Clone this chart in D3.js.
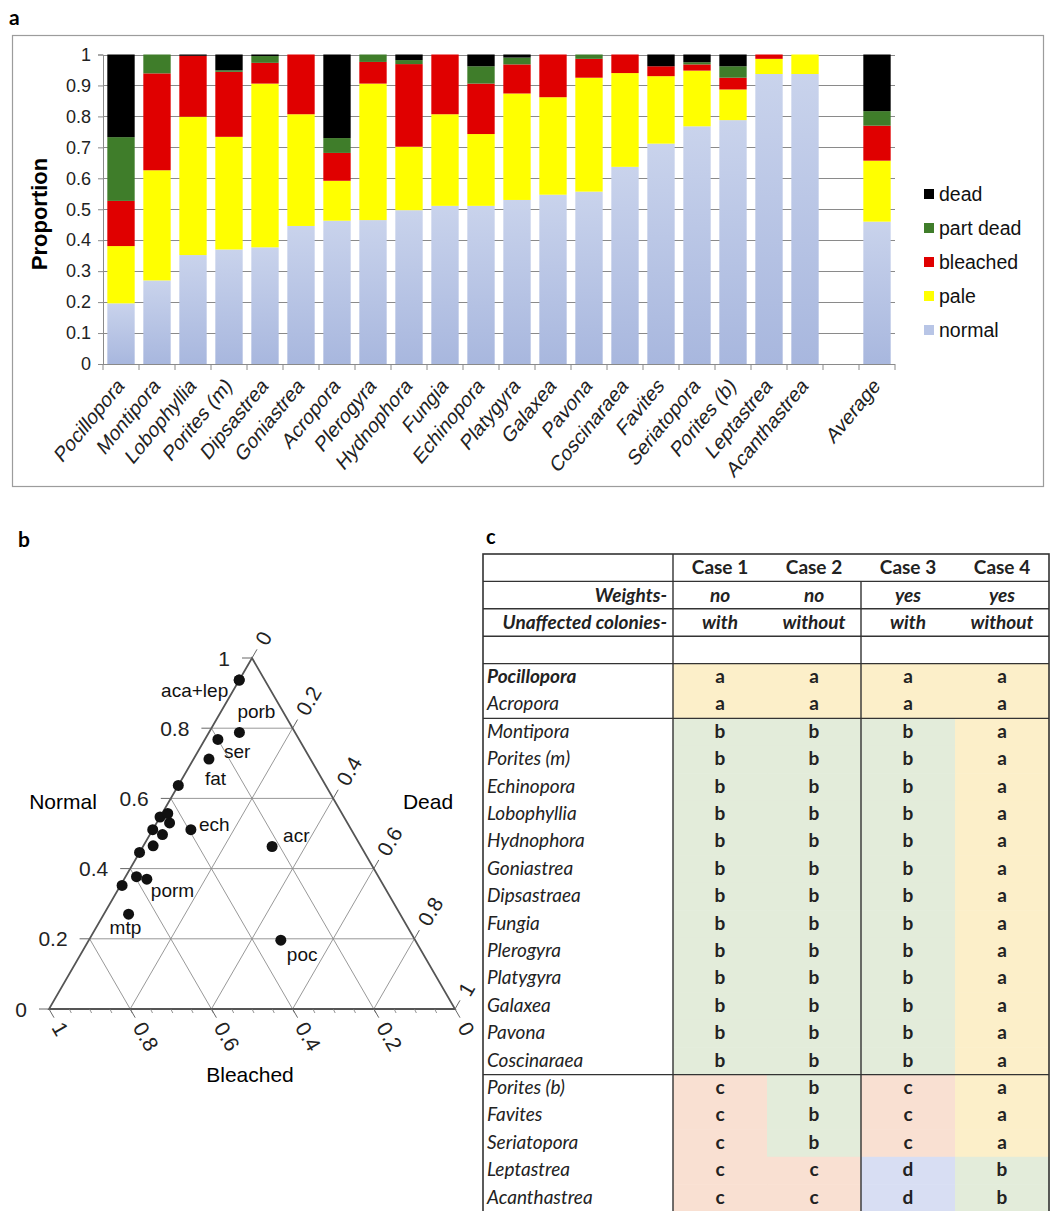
<!DOCTYPE html>
<html lang="en">
<head>
<meta charset="UTF-8">
<title>Coral condition by genus</title>
<script src="https://d3js.org/d3.v7.min.js"></script>
<style>
  body { margin: 0; background: #fff; }
  svg { display: block; font-family: "Liberation Sans", Arial, sans-serif; }
  .tbl text, .plabel { font-family: Lato, "Open Sans", sans-serif; }
</style>
</head>
<body>
<svg id="fig" width="1052" height="1211"></svg>
<script>
// ---- panel a data (proportions per genus) ----
var genera = ["Pocillopora", "Montipora", "Lobophyllia", "Porites (m)", "Dipsastrea", "Goniastrea",
  "Acropora", "Plerogyra", "Hydnophora", "Fungia", "Echinopora", "Platygyra", "Galaxea", "Pavona",
  "Coscinaraea", "Favites", "Seriatopora", "Porites (b)", "Leptastrea", "Acanthastrea", "", "Average"];
var normal   = [0.196, 0.270, 0.352, 0.370, 0.377, 0.446, 0.463, 0.465, 0.497, 0.511, 0.511, 0.530, 0.547, 0.557, 0.637, 0.712, 0.768, 0.788, 0.937, 0.937, 0, 0.460];
var pale     = [0.185, 0.356, 0.447, 0.364, 0.529, 0.361, 0.129, 0.441, 0.205, 0.296, 0.232, 0.344, 0.315, 0.368, 0.303, 0.218, 0.180, 0.099, 0.049, 0.063, 0, 0.197];
var bleached = [0.146, 0.313, 0.197, 0.210, 0.067, 0.193, 0.090, 0.070, 0.267, 0.193, 0.163, 0.094, 0.138, 0.061, 0.060, 0.032, 0.020, 0.038, 0.014, 0, 0, 0.113];
var partDead = [0.206, 0.061, 0, 0.005, 0.022, 0, 0.048, 0.024, 0.013, 0, 0.056, 0.022, 0, 0.014, 0, 0, 0.007, 0.037, 0, 0, 0, 0.047];
var dead     = [0.267, 0, 0.004, 0.051, 0.005, 0, 0.270, 0, 0.018, 0, 0.038, 0.010, 0, 0, 0, 0.038, 0.025, 0.038, 0, 0, 0, 0.183];
var yTicks = [0, 0.1, 0.2, 0.3, 0.4, 0.5, 0.6, 0.7, 0.8, 0.9, 1];

// ---- panel b labels ----
var ternaryLabels = [["Acanthastrea", "aca+lep"], ["Porites (b)", "porb"], ["Seriatopora", "ser"],
  ["Favites", "fat"], ["Echinopora", "ech"], ["Acropora", "acr"], ["Porites (m)", "porm"],
  ["Montipora", "mtp"], ["Pocillopora", "poc"]];
var ternaryTicks = [0, 0.2, 0.4, 0.6, 0.8, 1];

// ---- panel c data ----
var cases = ["Case 1", "Case 2", "Case 3", "Case 4"];
var weights = ["no", "no", "yes", "yes"];
var unaffected = ["with", "without", "with", "without"];
var tableGenera = ["Pocillopora", "Acropora", "Montipora", "Porites (m)", "Echinopora", "Lobophyllia",
  "Hydnophora", "Goniastrea", "Dipsastraea", "Fungia", "Plerogyra", "Platygyra", "Galaxea", "Pavona",
  "Coscinaraea", "Porites (b)", "Favites", "Seriatopora", "Leptastrea", "Acanthastrea"];
var groups = ["aaaa", "aaaa", "bbba", "bbba", "bbba", "bbba", "bbba", "bbba", "bbba", "bbba", "bbba",
  "bbba", "bbba", "bbba", "bbba", "cbca", "cbca", "cbca", "ccdb", "ccdb"];

var svg = d3.select("#fig");

// ================= panel a =================
var keys = ["normal", "pale", "bleached", "partDead", "dead"];
var colors = { normal: "url(#normGrad)", pale: "#ffff00", bleached: "#e00000", partDead: "#3f7d2a", dead: "#000000" };
var legendNames = { normal: "normal", pale: "pale", bleached: "bleached", partDead: "part dead", dead: "dead" };
var legendSwatch = { normal: "#b8c5e6", pale: "#ffff00", bleached: "#e00000", partDead: "#3f7d2a", dead: "#000000" };

var defs = svg.append("defs");
var grad = defs.append("linearGradient").attr("id", "normGrad")
  .attr("x1", 0).attr("y1", 0).attr("x2", 0).attr("y2", 1);
grad.append("stop").attr("offset", "0%").attr("stop-color", "#c9d3ec");
grad.append("stop").attr("offset", "100%").attr("stop-color", "#a8b7de");

svg.append("rect").attr("x", 12.5).attr("y", 35.5).attr("width", 1031).attr("height", 451)
  .attr("fill", "#fff").attr("stroke", "#9c9c9c").attr("stroke-width", 1.2);
svg.append("text").attr("x", 9).attr("y", 25).attr("class", "plabel")
  .attr("font-weight", "bold").attr("font-size", "21px").text("a");

var rows = genera.map(function (g, i) {
  return { i: i, normal: normal[i], pale: pale[i], bleached: bleached[i], partDead: partDead[i], dead: dead[i] };
});

var x = d3.scaleBand().domain(d3.range(genera.length)).range([103, 895])
  .paddingInner(0.24).paddingOuter(0.12);
var y = d3.scaleLinear().domain([0, 1]).range([364, 54.5]);

var ga = svg.append("g");

// gridlines
ga.selectAll(".grid").data(yTicks).enter().append("line")
  .attr("x1", 103).attr("x2", 895)
  .attr("y1", function (d) { return Math.round(y(d)) + 0.5; })
  .attr("y2", function (d) { return Math.round(y(d)) + 0.5; })
  .attr("stroke", "#8a8a8a").attr("stroke-width", 1);

var stack = d3.stack().keys(keys)(rows);
ga.selectAll(".layer").data(stack).enter().append("g")
  .attr("fill", function (d) { return colors[d.key]; })
  .selectAll("rect").data(function (d) { return d; }).enter().append("rect")
  .filter(function (d) { return d[1] - d[0] > 0; })
  .attr("x", function (d) { return x(d.data.i); })
  .attr("width", x.bandwidth())
  .attr("y", function (d) { return y(d[1]); })
  .attr("height", function (d) { return y(d[0]) - y(d[1]); });

// y axis
var yAxis = ga.append("g").attr("transform", "translate(103,0)")
  .call(d3.axisLeft(y).tickValues(yTicks).tickSize(5).tickPadding(7)
    .tickFormat(function (d) { return d === 0 || d === 1 ? String(d) : d3.format(".1f")(d); }));
yAxis.select(".domain").attr("stroke", "#8a8a8a");
yAxis.selectAll(".tick line").attr("stroke", "#8a8a8a");
yAxis.selectAll("text").attr("font-size", "18px").attr("fill", "#222")
  .attr("font-family", "'Liberation Sans', Arial, sans-serif");

// x axis with ticks at band boundaries
ga.append("line").attr("x1", 103).attr("x2", 895).attr("y1", 364.5).attr("y2", 364.5).attr("stroke", "#8a8a8a");
ga.selectAll(".xt").data(d3.range(genera.length + 1)).enter().append("line")
  .attr("x1", function (i) { return x.range()[0] + i * x.step(); })
  .attr("x2", function (i) { return x.range()[0] + i * x.step(); })
  .attr("y1", 364).attr("y2", 370).attr("stroke", "#8a8a8a");

ga.selectAll(".xl").data(rows.filter(function (d) { return genera[d.i] !== ""; })).enter().append("text")
  .attr("transform", function (d) {
    return "translate(" + (x(d.i) + x.bandwidth() / 2 + 4) + ",387) scale(1,1.22) rotate(-45)";
  })
  .attr("text-anchor", "end").attr("font-size", "18px").attr("fill", "#222")
  .text(function (d) { return genera[d.i]; });

ga.append("text").attr("transform", "translate(47,214) rotate(-90)")
  .attr("text-anchor", "middle").attr("font-weight", "bold").attr("font-size", "22px")
  .text("Proportion");

// legend
var legendKeys = keys.slice().reverse();
var lg = ga.selectAll(".lg").data(legendKeys).enter().append("g")
  .attr("transform", function (d, i) { return "translate(924," + (194 + i * 34) + ")"; });
lg.append("rect").attr("x", 0).attr("y", -5).attr("width", 10).attr("height", 10)
  .attr("fill", function (d) { return legendSwatch[d]; });
lg.append("text").attr("x", 15).attr("dy", "0.36em").attr("font-size", "19.5px").attr("fill", "#111")
  .text(function (d) { return legendNames[d]; });

// ================= panel b (ternary) =================
svg.append("text").attr("x", 18).attr("y", 547).attr("class", "plabel")
  .attr("font-weight", "bold").attr("font-size", "21px").text("b");

var gb = svg.append("g");
var ty = d3.scaleLinear().domain([0, 1]).range([1009, 658]);   // normal -> vertical
var tx = d3.scaleLinear().domain([0, 1]).range([49, 455]);     // dead + normal/2 -> horizontal
function tern(n, d) { return [tx(d + n / 2), ty(n)]; }

var gridVals = [0.2, 0.4, 0.6, 0.8];
var gridLines = [];
gridVals.forEach(function (v) {
  gridLines.push([tern(v, 0), tern(v, 1 - v)]);          // constant normal
  gridLines.push([tern(1 - v, 0), tern(0, 1 - v)]);      // constant bleached
  gridLines.push([tern(1 - v, v), tern(0, v)]);          // constant dead
});
gb.selectAll(".tg").data(gridLines).enter().append("line")
  .attr("x1", function (d) { return d[0][0]; }).attr("y1", function (d) { return d[0][1]; })
  .attr("x2", function (d) { return d[1][0]; }).attr("y2", function (d) { return d[1][1]; })
  .attr("stroke", "#8c8c8c").attr("stroke-width", 0.9);

var corners = [tern(0, 0), tern(0, 1), tern(1, 0)];
gb.append("path").attr("d", "M" + corners.join("L") + "Z")
  .attr("fill", "none").attr("stroke", "#555").attr("stroke-width", 1.8);

// minor ticks on base
gb.selectAll(".mt").data(d3.range(1, 20)).enter().append("line")
  .attr("x1", function (i) { return tern(0, i / 20)[0]; }).attr("y1", 1009)
  .attr("x2", function (i) { return tern(0, i / 20)[0] + 2; }).attr("y2", 1013)
  .attr("stroke", "#777").attr("stroke-width", 0.8);

var s60 = Math.sqrt(3) / 2;
ternaryTicks.forEach(function (v) {
  // normal (left edge)
  var p = tern(v, 0);
  gb.append("line").attr("x1", p[0]).attr("y1", p[1]).attr("x2", p[0] - 10).attr("y2", p[1])
    .attr("stroke", "#666").attr("stroke-width", 1);
  gb.append("text").attr("x", p[0] - 22).attr("y", p[1]).attr("dy", "0.36em")
    .attr("text-anchor", "end").attr("font-size", "21px").attr("fill", "#222").text(v);
  // bleached (base)
  var q = tern(0, 1 - v);
  gb.append("line").attr("x1", q[0]).attr("y1", q[1]).attr("x2", q[0] + 5).attr("y2", q[1] + 10 * s60)
    .attr("stroke", "#666").attr("stroke-width", 1);
  gb.append("text").attr("transform", "translate(" + (q[0] + 0.5 * 17) + "," + (q[1] + s60 * 17) + ") rotate(60)")
    .attr("dy", "0.36em").attr("font-size", "21px").attr("fill", "#222").text(v);
  // dead (right edge)
  var r = tern(1 - v, v);
  gb.append("line").attr("x1", r[0]).attr("y1", r[1]).attr("x2", r[0] + 5).attr("y2", r[1] - 10 * s60)
    .attr("stroke", "#666").attr("stroke-width", 1);
  gb.append("text").attr("transform", "translate(" + (r[0] + 0.5 * 17) + "," + (r[1] - s60 * 17) + ") rotate(-60)")
    .attr("dy", "0.36em").attr("font-size", "21px").attr("fill", "#222").text(v);
});

gb.append("text").attr("x", 63).attr("y", 809).attr("text-anchor", "middle").attr("font-size", "21px").text("Normal");
gb.append("text").attr("x", 428).attr("y", 809).attr("text-anchor", "middle").attr("font-size", "21px").text("Dead");
gb.append("text").attr("x", 250).attr("y", 1082).attr("text-anchor", "middle").attr("font-size", "21px").text("Bleached");

var tpts = genera.slice(0, 20).map(function (g, i) {
  return { g: g, n: normal[i], b: pale[i] + bleached[i], d: partDead[i] + dead[i] };
});
gb.selectAll(".pt").data(tpts).enter().append("circle")
  .attr("cx", function (d) { return tern(d.n, d.d)[0]; })
  .attr("cy", function (d) { return tern(d.n, d.d)[1]; })
  .attr("r", 5.5).attr("fill", "#111");

var labelOffset = {
  "aca+lep": [-11, 17, "end"], "porb": [-2, -14, "start"], "ser": [6, 19, "start"],
  "fat": [-4, 26, "start"], "ech": [8, 1, "start"], "acr": [11, -4, "start"],
  "porm": [4, 18, "start"], "mtp": [-19, 20, "start"], "poc": [6, 21, "start"]
};
gb.selectAll(".tl").data(ternaryLabels).enter().append("text")
  .attr("x", function (d) {
    var i = genera.indexOf(d[0]);
    return tern(normal[i], partDead[i] + dead[i])[0] + labelOffset[d[1]][0];
  })
  .attr("y", function (d) {
    var i = genera.indexOf(d[0]);
    return tern(normal[i], partDead[i] + dead[i])[1] + labelOffset[d[1]][1];
  })
  .attr("text-anchor", function (d) { return labelOffset[d[1]][2]; })
  .attr("font-size", "19px").attr("fill", "#111")
  .text(function (d) { return d[1]; });

// ================= panel c (table) =================
svg.append("text").attr("x", 486).attr("y", 544).attr("class", "plabel")
  .attr("font-weight", "bold").attr("font-size", "20px").text("c");

var gc = svg.append("g").attr("class", "tbl");
var nRows = 4 + tableGenera.length;
var rowY = d3.scaleBand().domain(d3.range(nRows)).range([554, 554 + nRows * 27.4]);
var colX = d3.scaleBand().domain(d3.range(cases.length)).range([673, 1049]);
var letterFill = { a: "#fcefc9", b: "#e3ecda", c: "#f9e0d2", d: "#d8def3" };
var fs = "19px";

var cells = [];
tableGenera.forEach(function (g, r) {
  groups[r].split("").forEach(function (l, c) { cells.push({ r: r, c: c, l: l }); });
});
gc.selectAll(".cell").data(cells).enter().append("rect")
  .attr("x", function (d) { return colX(d.c); })
  .attr("y", function (d) { return rowY(d.r + 4); })
  .attr("width", colX.bandwidth() + 0.5)
  .attr("height", rowY.bandwidth() + 0.5)
  .attr("fill", function (d) { return letterFill[d.l]; });

gc.selectAll(".lt").data(cells).enter().append("text")
  .attr("x", function (d) { return colX(d.c) + colX.bandwidth() / 2; })
  .attr("y", function (d) { return rowY(d.r + 4) + rowY.bandwidth() / 2; })
  .attr("dy", "0.3em").attr("text-anchor", "middle")
  .attr("font-weight", "bold").attr("font-size", fs).attr("fill", "#222")
  .text(function (d) { return d.l; });

gc.selectAll(".gn").data(tableGenera).enter().append("text")
  .attr("x", 487)
  .attr("y", function (d, r) { return rowY(r + 4) + rowY.bandwidth() / 2; })
  .attr("dy", "0.3em").attr("font-style", "italic").attr("font-size", fs).attr("fill", "#222")
  .attr("font-weight", function (d, r) { return r === 0 ? "bold" : "normal"; })
  .text(function (d) { return d; });

// header rows
[[cases, "normal"], [weights, "italic"], [unaffected, "italic"]].forEach(function (h, r) {
  gc.selectAll(".h" + r).data(h[0]).enter().append("text")
    .attr("x", function (d, c) { return colX(c) + colX.bandwidth() / 2; })
    .attr("y", rowY(r) + rowY.bandwidth() / 2).attr("dy", "0.35em")
    .attr("text-anchor", "middle").attr("font-weight", "bold").attr("font-style", h[1])
    .attr("font-size", fs).attr("fill", "#222")
    .text(function (d) { return d; });
});
gc.append("text").attr("x", 667).attr("y", rowY(1) + rowY.bandwidth() / 2).attr("dy", "0.35em")
  .attr("text-anchor", "end").attr("font-weight", "bold").attr("font-style", "italic")
  .attr("font-size", fs).attr("fill", "#222").text("Weights-");
gc.append("text").attr("x", 667).attr("y", rowY(2) + rowY.bandwidth() / 2).attr("dy", "0.35em")
  .attr("text-anchor", "end").attr("font-weight", "bold").attr("font-style", "italic")
  .attr("font-size", fs).attr("fill", "#222").text("Unaffected colonies-");

// rules
var hRules = [1, 2, 3, 4, 6, 19];
gc.selectAll(".hr").data(hRules).enter().append("line")
  .attr("x1", 483).attr("x2", 1049)
  .attr("y1", function (r) { return rowY(r); }).attr("y2", function (r) { return rowY(r); })
  .attr("stroke", "#333").attr("stroke-width", 1.4);
gc.append("line").attr("x1", 673).attr("x2", 673).attr("y1", 554).attr("y2", 1220)
  .attr("stroke", "#333").attr("stroke-width", 1.4);
gc.append("line").attr("x1", colX(2)).attr("x2", colX(2)).attr("y1", rowY(1)).attr("y2", 1220)
  .attr("stroke", "#333").attr("stroke-width", 1.4);
gc.append("rect").attr("x", 483).attr("y", 554).attr("width", 566).attr("height", 670)
  .attr("fill", "none").attr("stroke", "#333").attr("stroke-width", 1.6);
</script>
</body>
</html>
